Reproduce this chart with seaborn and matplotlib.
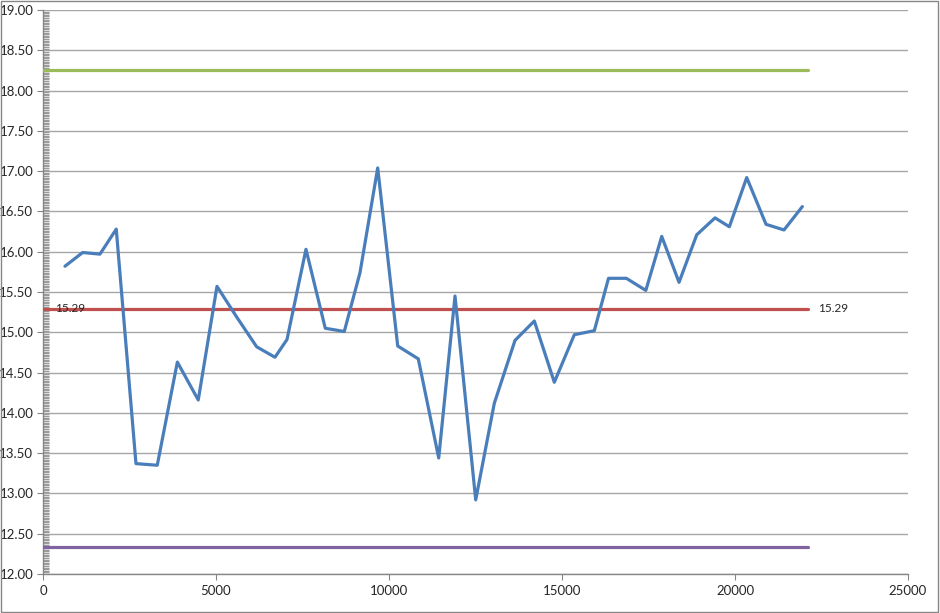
import pandas as pd
import matplotlib
matplotlib.use("Agg")
import matplotlib.pyplot as plt
import seaborn as sns
from matplotlib.ticker import MultipleLocator, FormatStrFormatter
from matplotlib.patches import Rectangle

# dados
amostra_x = [636, 1147, 1647, 2118, 2688, 3303, 3884, 4488, 5029, 5598,
             6176, 6705, 7052, 7601, 8159, 8708, 9162, 9674, 10252, 10847,
             11437, 11908, 12506, 13044, 13642, 14200, 14778, 15356, 15934, 16344,
             16859, 17422, 17882, 18382, 18893, 19422, 19836, 20338, 20896, 21416,
             21945]
amostra_y = [15.82, 15.99, 15.97, 16.28, 13.37, 13.35, 14.63, 14.16, 15.57, 15.19,
             14.82, 14.69, 14.91, 16.03, 15.05, 15.01, 15.74, 17.04, 14.83, 14.67,
             13.44, 15.45, 12.92, 14.12, 14.90, 15.14, 14.38, 14.97, 15.02, 15.67,
             15.67, 15.52, 16.19, 15.62, 16.21, 16.42, 16.31, 16.92, 16.34, 16.27,
             16.56]

# limites (superior, media, inferior)
limite_x = [0, 22100]
limite_superior = 18.25
media = 15.29
limite_inferior = 12.33
rotulo_media = "15.29"

sns.set_style("white")
plt.rcParams["font.family"] = ["Lato", "DejaVu Sans"]

fig = plt.figure(figsize=(9.4, 6.13), dpi=100)
ax = fig.add_axes([0.0457, 0.0636, 0.9203, 0.9201])

dados = pd.DataFrame({"x": amostra_x, "y": amostra_y})
limites = pd.DataFrame({
    "x": limite_x * 3,
    "y": [limite_superior] * 2 + [media] * 2 + [limite_inferior] * 2,
    "serie": ["sup"] * 2 + ["media"] * 2 + ["inf"] * 2,
})

sns.lineplot(data=limites, x="x", y="y", hue="serie",
             palette={"sup": "#9BBB59", "media": "#C0504D", "inf": "#8064A2"},
             linewidth=2.3, legend=False, ax=ax, zorder=3)
sns.lineplot(data=dados, x="x", y="y", color="#4A7EBB", linewidth=2.3,
             ax=ax, zorder=4)

# rotulos da media
ax.text(limite_x[0] + 350, media, rotulo_media, fontsize=8.5, va="center", ha="left", zorder=5)
ax.text(limite_x[1] + 300, media, rotulo_media, fontsize=8.5, va="center", ha="left", zorder=5)

ax.set_xlim(0, 25000)
ax.set_ylim(12, 19)
ax.yaxis.set_major_locator(MultipleLocator(0.5))
ax.yaxis.set_major_formatter(FormatStrFormatter("%.2f"))
ax.yaxis.set_minor_locator(MultipleLocator(0.02))
ax.xaxis.set_major_locator(MultipleLocator(5000))
ax.set_xlabel("")
ax.set_ylabel("")

ax.grid(axis="y", color="#A6A6A6", linewidth=1)
ax.set_axisbelow(True)
for lado in ["top", "right"]:
    ax.spines[lado].set_visible(False)
for lado in ["left", "bottom"]:
    ax.spines[lado].set_color("#868686")
    ax.spines[lado].set_linewidth(1)

ax.tick_params(axis="y", which="major", direction="out", length=4, color="#868686",
               labelsize=9.5, left=True, pad=3)
ax.tick_params(axis="y", which="minor", direction="in", length=4, width=1,
               color="#9A9A9A", left=True)
ax.tick_params(axis="x", which="major", direction="out", length=4, color="#868686",
               labelsize=9.5, bottom=True, pad=4)

# borda da area do grafico
fig.patches.append(Rectangle((0.001, 0.001), 0.997, 0.997, transform=fig.transFigure,
                             fill=False, edgecolor="#868686", linewidth=1))

plt.savefig("out.png", dpi=100)
